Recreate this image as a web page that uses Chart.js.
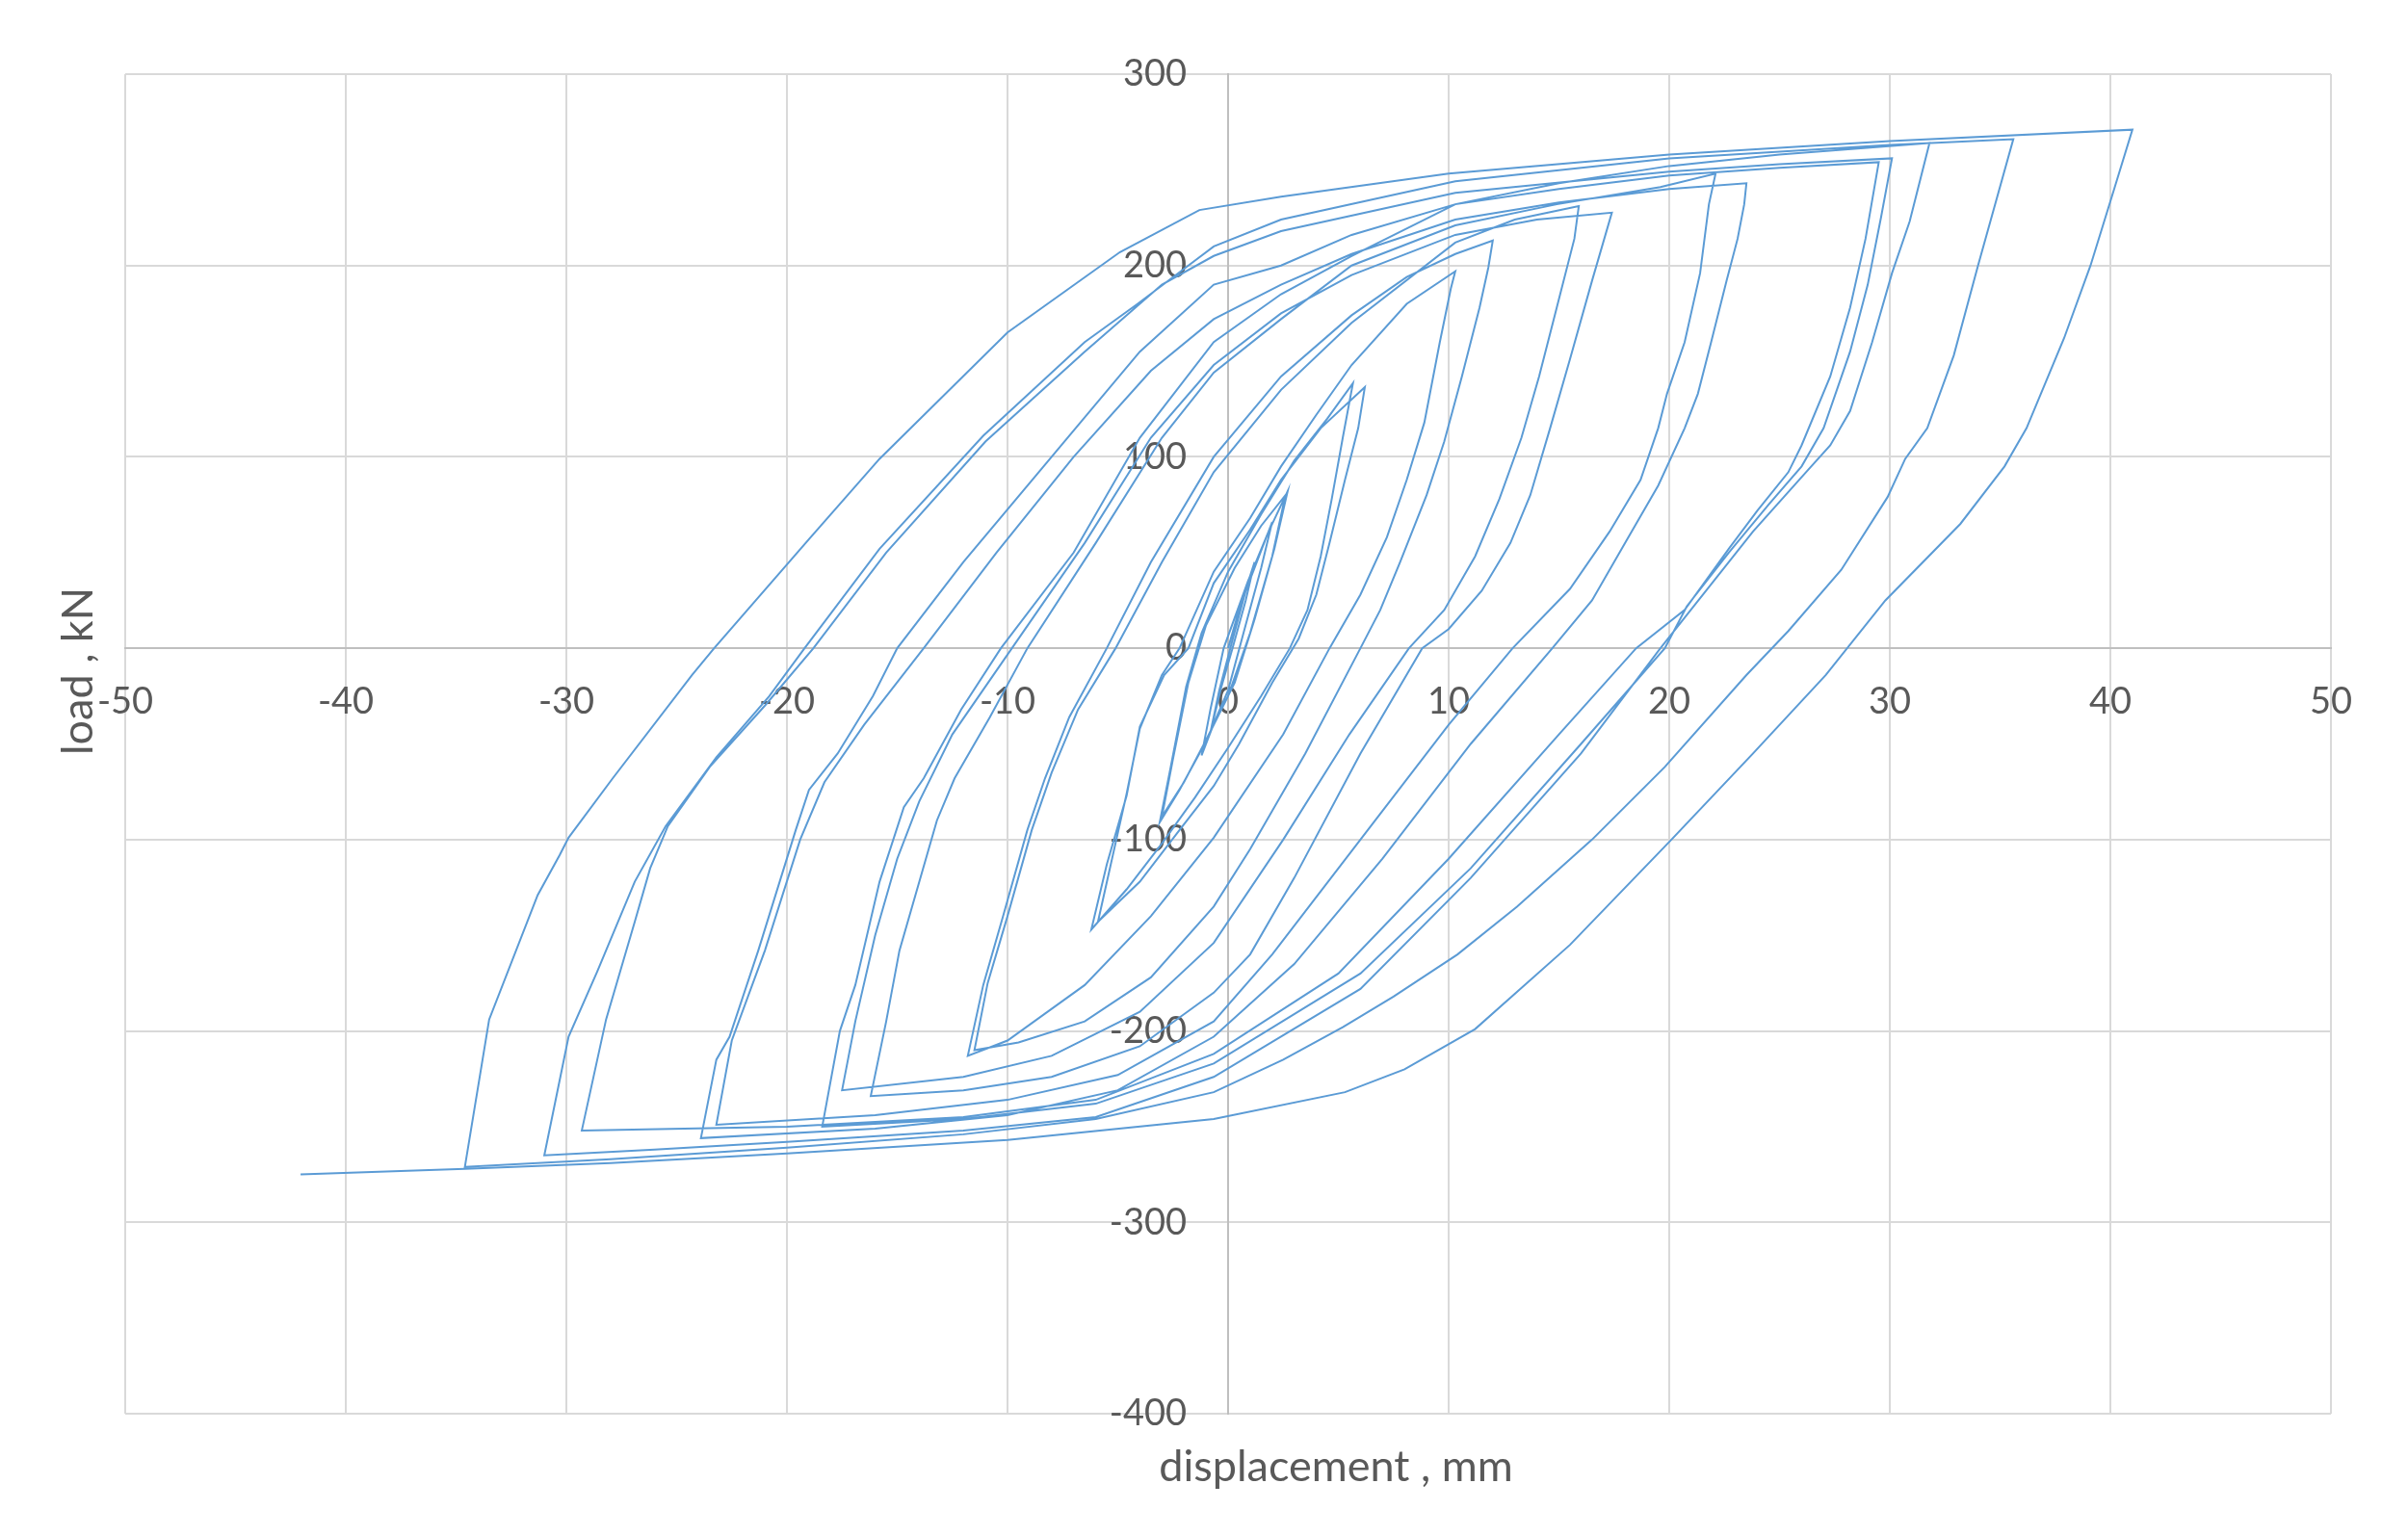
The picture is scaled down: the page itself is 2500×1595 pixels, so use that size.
<!DOCTYPE html>
<html>
<head>
<meta charset="utf-8">
<script src="https://cdn.jsdelivr.net/npm/chart.js@4.4.1/dist/chart.umd.min.js"></script>
<style>
    html, body { margin: 0; padding: 0; background: #ffffff; }
    #wrap { width: 2500px; height: 1595px; position: relative; }
</style>
</head>
<body>
<div id="wrap"><canvas id="chart"></canvas></div>
<script>
"use strict";

// Axis ranges and tick steps (displacement in mm, load in kN)
const xRange = [-50, 50];
const yRange = [-400, 300];
const xStep = 10;
const yStep = 100;

const xTitle = "displacement , mm";
const yTitle = "load , kN";

// Hysteresis loops as [displacement, load] pairs, in test order

// small elastic cycles
const cycleSmall = [
    [0, 0], [0.5, 20], [1.2, 45], [0.8, 25], [0.2, 0], [-0.3, -20], [-0.8, -44], [-0.4, -22], [0.1, 0],
    [0.8, 30], [2.0, 66], [1.5, 42], [0.7, 8], [0, -22], [-0.6, -38], [-1.2, -56], [-0.8, -32], [-0.2, 0],
    [0.9, 35], [1.8, 60], [2.7, 82], [2.1, 52], [1.2, 15], [0.3, -18], [-1.0, -48], [-2.0, -70], [-3.0, -88],
    [-2.5, -58], [-1.8, -18], [-1.0, 12],
    [0.3, 42], [1.5, 64], [2.6, 80], [2.0, 48], [1.0, 8], [0, -25], [-1.3, -55], [-2.2, -74], [-3.1, -91],
    [-2.6, -62], [-1.9, -20], [-1.2, 8],
];

// ~6 mm cycles
const cycle6 = [
    [0, 40], [1.5, 70], [3.0, 98], [4.5, 120], [5.66, 138.5],
    [5.2, 110], [4.7, 78], [4.2, 48], [3.6, 20], [2.8, 0], [1.5, -25], [0, -52], [-1.5, -78], [-3.0, -102],
    [-4.6, -126], [-6.2, -147],
    [-5.5, -113], [-4.6, -77], [-4.0, -41], [-2.9, -14], [-1.8, 0], [-0.65, 34], [1.0, 62], [2.4, 88],
    [4.2, 115], [6.2, 136.5],
    [5.9, 115], [5.3, 88], [4.6, 55], [4.0, 28], [3.2, 5], [2.0, -18], [0.5, -50], [-0.65, -72], [-2.2, -95],
    [-4.0, -122], [-5.9, -143],
];

// ~11 mm cycles
const cycle11 = [
    [-5.3, -112], [-4.6, -76], [-4.0, -42], [-3.0, -14], [-2.2, 0], [-0.65, 40], [1.0, 68], [2.4, 95],
    [4.0, 122], [5.6, 148], [8.1, 180], [10.3, 197],
    [10.1, 188], [9.6, 160], [8.9, 118], [8.1, 88], [7.2, 58], [6.0, 28], [4.6, 0], [2.5, -45], [-0.65, -99],
    [-3.5, -140], [-6.5, -176], [-10, -205], [-11.8, -213],
    [-11.1, -176], [-10.2, -140], [-9.1, -95], [-8.3, -68], [-7.2, -36], [-5.5, 0], [-3.5, 45], [-0.65, 100],
    [2.4, 142], [5.6, 174], [8.1, 194], [10.3, 206], [12.0, 213],
    [11.8, 199], [11.4, 178], [10.6, 142], [9.8, 108], [9.0, 80], [7.8, 45], [6.9, 20], [6.0, 0], [3.5, -55],
    [1.0, -105], [-0.65, -135], [-3.5, -172], [-6.5, -195], [-9.5, -206], [-11.5, -210],
];

// ~17 mm cycles
const cycle17 = [
    [-10.9, -175], [-10.0, -140], [-8.9, -95], [-8.0, -65], [-6.8, -32], [-5.1, 0], [-3.0, 45], [-0.65, 92],
    [2.4, 135], [5.6, 170], [10.3, 212], [13.0, 224], [15.9, 231],
    [15.7, 214], [14.9, 178], [14.1, 142], [13.3, 110], [12.3, 78], [11.2, 48], [9.8, 20], [8.2, 0],
    [5.5, -45], [2.5, -100], [-0.65, -154], [-4, -190], [-8, -213], [-12, -224], [-17.5, -231],
    [-16.9, -195], [-16.0, -150], [-15.0, -110], [-14.0, -80], [-12.5, -45], [-9.8, 0], [-6.5, 55],
    [-3.5, 110], [-0.65, 148], [2.4, 175], [5.6, 195], [10.3, 216], [14.0, 224], [17.4, 227.6],
    [16.5, 192], [15.5, 151], [14.6, 115], [13.7, 80], [12.8, 55], [11.5, 30], [10.0, 10], [8.8, 0],
    [6.0, -55], [3.0, -120], [1.0, -160], [-0.65, -180], [-4, -208], [-8, -224], [-12, -231], [-16.2, -234],
];

// ~23 mm cycles
const cycle23 = [
    [-15.5, -195], [-14.9, -158], [-13.2, -90], [-12.4, -68], [-10.8, -36], [-9.1, 0], [-6.0, 55],
    [-3.0, 110], [-0.65, 144], [2.4, 172], [5.6, 200], [10.3, 221], [14.9, 232], [19.6, 241], [22.1, 248],
    [21.8, 232], [21.4, 196], [20.7, 160], [19.9, 133], [19.5, 115], [18.7, 88], [17.3, 61], [15.5, 31],
    [12.9, 0], [10, -40], [6, -100], [2, -160], [-0.65, -195], [-5, -223], [-10, -236], [-16, -244],
    [-23.2, -249],
    [-22.5, -205], [-21.0, -158], [-19.4, -100], [-18.3, -70], [-16.5, -40], [-13.8, 0], [-10.5, 50],
    [-7.0, 100], [-3.5, 145], [-0.65, 172], [2.4, 190], [5.6, 206], [10.3, 224], [15.0, 233], [20.0, 240],
    [23.5, 243],
    [23.4, 232], [23.1, 214], [22.6, 192], [21.9, 160], [21.3, 133], [20.7, 115], [19.5, 85], [18.0, 55],
    [16.5, 25], [14.7, 0], [11, -50], [7, -110], [3, -165], [-0.65, -203], [-5, -231], [-10, -244],
    [-16, -251], [-23.9, -256],
];

// ~30 mm cycles
const cycle30 = [
    [-23.2, -215], [-22.6, -203], [-21.3, -158], [-19.6, -95], [-19.0, -74], [-17.7, -55], [-16.1, -25],
    [-15.0, 0], [-12, 45], [-8, 100], [-4, 155], [-0.65, 190], [2.4, 200], [5.6, 216], [10.3, 232],
    [15, 240], [20, 247], [25, 251], [29.5, 254],
    [28.9, 214], [28.2, 178], [27.3, 142], [26.0, 106], [25.4, 92], [24.0, 72], [22.7, 52], [20.7, 20],
    [18.5, 0], [15, -45], [10, -110], [5, -170], [-0.65, -212], [-6, -236], [-12, -245], [-20, -250],
    [-29.3, -252],
    [-28.2, -194], [-26.9, -143], [-26.2, -115], [-25.4, -93], [-23.5, -62], [-21, -30], [-18.8, 0],
    [-15.5, 50], [-11, 108], [-6.5, 155], [-3, 190], [-0.65, 205], [2.4, 218], [10.3, 238], [20, 249],
    [25, 253], [30.1, 256],
    [29.6, 225], [29.0, 190], [28.2, 155], [27.0, 115], [26.0, 95], [24.5, 75], [22.7, 50], [20.8, 22],
    [19.8, 0], [16, -50], [11, -115], [6, -170], [-0.65, -217], [-6, -238], [-12, -246], [-18.4, -250],
    [-17.6, -200], [-16.9, -176], [-15.8, -122], [-14.7, -83], [-13.8, -68], [-12.1, -32], [-10.3, 0],
    [-7, 50], [-4, 110], [-0.65, 160], [2.4, 185], [5.6, 205], [10.3, 232], [15, 243], [20, 252],
    [25, 258], [31.8, 264],
    [30.9, 223], [30.1, 196], [29.2, 160], [28.2, 124], [27.3, 106], [26.2, 92], [23.8, 61], [20.7, 16],
    [19.6, 0], [16, -55], [11, -120], [6, -178], [-0.65, -224], [-6, -245], [-12, -252], [-20, -258],
    [-26, -262], [-31.0, -265],
];

// last cycles up to failure
const cycleFinal = [
    [-29.9, -203], [-28.6, -169], [-26.9, -122], [-25.5, -93], [-23.2, -57], [-20.8, -25], [-19.2, 0],
    [-15.8, 52], [-11.1, 111], [-6.5, 160], [-4.1, 180], [-1.8, 200], [-0.65, 210], [2.4, 224],
    [10.3, 244], [20, 256], [30, 263], [35.6, 266],
    [34.0, 200], [32.9, 153], [31.7, 115], [30.7, 99], [29.9, 79], [27.8, 41], [25.4, 9], [23.5, -14],
    [19.8, -62], [16.5, -100], [13.1, -135], [10.4, -160], [7.5, -182], [5.2, -198], [2.5, -215],
    [-0.65, -232], [-6, -246], [-12, -254], [-20, -261], [-28, -267], [-34.6, -271],
    [-33.5, -194], [-31.3, -129], [-30.3, -108], [-29.9, -99], [-27.9, -68], [-24.3, -14], [-23.3, 0],
    [-19, 57], [-15.8, 99], [-10, 165], [-4.9, 207], [-1.3, 229], [2.4, 236], [10, 248], [20, 258],
    [30, 265], [41, 271],
    [40.2, 241], [39.1, 200], [37.9, 162], [36.2, 115], [35.2, 95], [33.2, 65], [29.8, 25], [27.1, -14],
    [23.8, -55], [20.1, -100], [15.5, -155], [11.2, -199], [8, -220], [5.3, -232], [-0.65, -246],
    [-10, -257], [-20, -264], [-28, -269], [-34.6, -272], [-42.05, -275],
];

const loops = [cycleSmall, cycle6, cycle11, cycle17, cycle23, cycle30, cycleFinal];

const points = loops.flat().map(([x, y]) => ({ x, y }));

const tickFont = { family: "Lato, 'Open Sans', sans-serif", size: 38 };
const textColor = "#595959";
const gridColor = "#d9d9d9";
const axisColor = "#bfbfbf";

/**
 * Draw the two axis titles outside the plot, like the spreadsheet chart does
 */
const axisTitles = {
    id: "axisTitles",
    afterDraw(chart) {
        const { ctx } = chart;
        ctx.save();
        ctx.fillStyle = textColor;
        ctx.font = "45px Lato, 'Open Sans', sans-serif";
        ctx.textAlign = "center";
        ctx.textBaseline = "alphabetic";
        ctx.fillText(xTitle, 1387, 1538);
        ctx.translate(96, 697);
        ctx.rotate(-Math.PI / 2);
        ctx.fillText(yTitle, 0, 0);
        ctx.restore();
    },
};

new Chart(document.getElementById("chart"), {
    type: "scatter",
    data: {
        datasets: [
            {
                data: points,
                showLine: true,
                borderColor: "#5b9bd5",
                borderWidth: 2,
                pointRadius: 0,
                tension: 0,
                fill: false,
            },
        ],
    },
    options: {
        responsive: true,
        maintainAspectRatio: false,
        animation: false,
        devicePixelRatio: 1,
        layout: { padding: { left: 130, top: 77, right: 80, bottom: 127 } },
        plugins: {
            legend: { display: false },
            tooltip: { enabled: false },
        },
        scales: {
            x: {
                type: "linear",
                min: xRange[0],
                max: xRange[1],
                position: { y: 0 }, // axis crosses at zero load
                afterFit: (scale) => { scale.height = 0; },
                ticks: {
                    stepSize: xStep,
                    color: textColor,
                    font: tickFont,
                    padding: 33,
                    maxRotation: 0,
                    autoSkip: false,
                },
                grid: { color: gridColor, lineWidth: 2, drawTicks: false },
                border: { color: axisColor, width: 2 },
            },
            y: {
                type: "linear",
                min: yRange[0],
                max: yRange[1],
                position: "center", // zero displacement is the middle of the x range
                afterFit: (scale) => { scale.width = 0; },
                ticks: {
                    stepSize: yStep,
                    color: textColor,
                    font: tickFont,
                    padding: 43,
                    autoSkip: false,
                },
                grid: { color: gridColor, lineWidth: 2, drawTicks: false },
                border: { color: axisColor, width: 2 },
            },
        },
    },
    plugins: [axisTitles],
});
</script>
</body>
</html>
